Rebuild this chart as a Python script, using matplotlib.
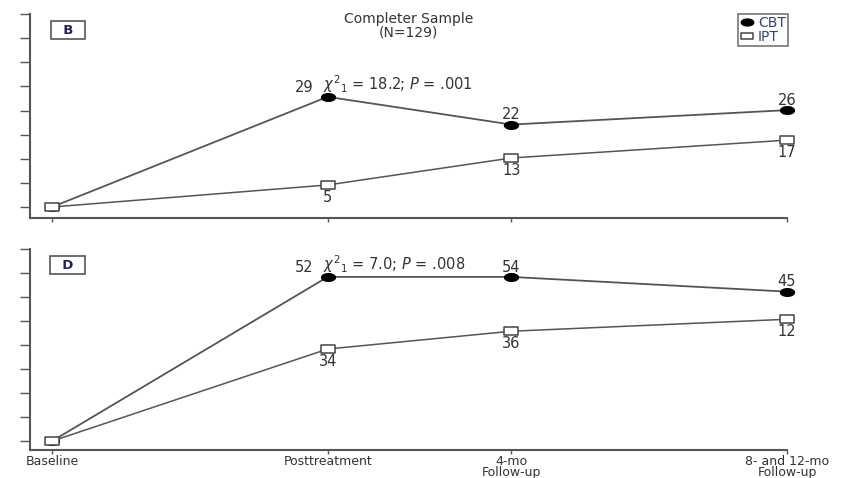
import numpy as np
import matplotlib
matplotlib.use('Agg')
import matplotlib.pyplot as plt
from matplotlib.path import Path

plt.rcParams['font.family'] = ['DejaVu Sans']
plt.rcParams['mathtext.fontset'] = 'dejavusans'

# time points (spacing as drawn in the figure)
x_pos = [0, 1.5, 2.5, 4.0]
x_labels = ['Baseline', 'Posttreatment', '4-mo\nFollow-up', '8- and 12-mo\nFollow-up']

# panel B (positions) and printed labels
cbt_b = [0, 29, 21.7, 25.5]
ipt_b = [0, 5.8, 12.9, 17.6]
cbt_b_lab = ['', '29', '22', '26']
ipt_b_lab = ['', '5', '13', '17']
stat_b = r'$\chi^2{}_1$ = 18.2; $P$ = .001'

# panel D
cbt_d = [0, 53.5, 53.5, 48.7]
ipt_d = [0, 30.0, 35.8, 39.7]
cbt_d_lab = ['', '52', '54', '45']
ipt_d_lab = ['', '34', '36', '12']
stat_d = r'$\chi^2{}_1$ = 7.0; $P$ = .008'

txt = '#333333'
line_c = '#555555'

# wide, flat markers like the scanned figure
t = np.linspace(0, 2 * np.pi, 40)
ell = Path(np.column_stack([np.cos(t), 0.55 * np.sin(t)]), closed=True)
rect = Path([(-1, -0.55), (1, -0.55), (1, 0.55), (-1, 0.55), (-1, -0.55)], closed=True)

fig = plt.figure(figsize=(8.5, 4.78), dpi=100)
axB = fig.add_axes([0.0353, 0.5439, 0.8906, 0.4268])
axD = fig.add_axes([0.0353, 0.0586, 0.8906, 0.4205])


def panel(ax, cbt, ipt, cbt_lab, ipt_lab, stat, letter, top, bottom):
    ax.plot(x_pos, cbt, color=line_c, lw=1.3, marker=ell, ms=10, mfc='black',
            mec='black', clip_on=False, zorder=3, label='CBT')
    ax.plot(x_pos, ipt, color=line_c, lw=1.1, marker=rect, ms=10, mfc='white',
            mec='#444444', mew=1.1, clip_on=False, zorder=4, label='IPT')
    for i in range(1, 4):
        dx = -17 if i == 1 else 0
        ax.annotate(cbt_lab[i], (x_pos[i], cbt[i]), xytext=(dx, 7),
                    textcoords='offset points', ha='center', va='center',
                    fontsize=10.5, color=txt)
        ax.annotate(ipt_lab[i], (x_pos[i], ipt[i]), xytext=(0, -9),
                    textcoords='offset points', ha='center', va='center',
                    fontsize=10.5, color=txt)
    ax.annotate(stat, (x_pos[1], cbt[1]), xytext=(-3, 9), textcoords='offset points',
                ha='left', va='center', fontsize=10.5, color=txt)
    ax.text(0.05, 0.92, '  ' + letter + '  ', transform=ax.transAxes, fontsize=9.5,
            fontweight='bold', color='#222255', ha='center', va='center',
            bbox=dict(boxstyle='square,pad=0.2', fc='white', ec='#555555', lw=1.2))
    ax.set_xlim(-0.12, 4.0)
    ax.set_ylim(bottom, top)
    ax.set_yticks(np.linspace(0, top, 9))
    ax.set_yticklabels([])
    ax.set_xticks(x_pos)
    for s in ['top', 'right']:
        ax.spines[s].set_visible(False)
    for s in ['left', 'bottom']:
        ax.spines[s].set_color('#555555')
        ax.spines[s].set_linewidth(1.5)
    ax.tick_params(axis='y', length=7, width=1, color='#555555')
    ax.tick_params(axis='x', length=3, width=1, color='#555555', labelsize=9,
                   labelcolor=txt, pad=0.5)


panel(axB, cbt_b, ipt_b, cbt_b_lab, ipt_b_lab, stat_b, 'B', 50.8, -2.9)
axB.set_xticklabels([])
panel(axD, cbt_d, ipt_d, cbt_d_lab, ipt_d_lab, stat_d, 'D', 62.6, -2.9)
axD.set_xticklabels(x_labels, linespacing=0.8)

axB.text(0.5, 0.944, 'Completer Sample\n(N=129)', transform=axB.transAxes,
         ha='center', va='center', fontsize=10, color=txt, linespacing=0.95)

leg = axB.legend(loc='upper right', bbox_to_anchor=(1.001, 1.0), frameon=True,
                 fancybox=False, handlelength=1.0, handletextpad=0.3,
                 borderpad=0.15, labelspacing=0.0, fontsize=10,
                 edgecolor='#555555', borderaxespad=0)
leg.get_frame().set_linewidth(1.2)
for h in leg.legend_handles:
    h.set_linestyle('none')
    h.set_markersize(9)
for tx in leg.get_texts():
    tx.set_color('#334477')

fig.savefig('out.png', dpi=100)
